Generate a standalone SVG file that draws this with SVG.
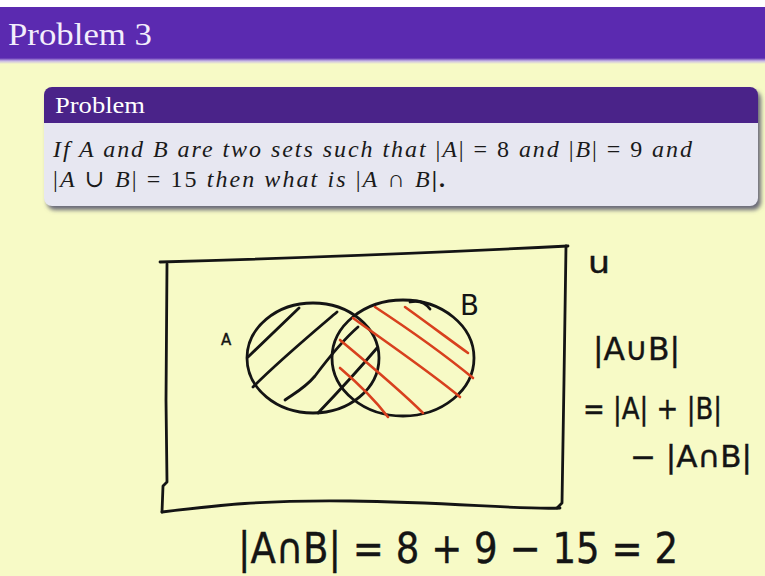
<svg xmlns="http://www.w3.org/2000/svg" width="765" height="576" viewBox="0 0 765 576">
<defs>
<linearGradient id="barfade" x1="0" y1="0" x2="0" y2="1">
<stop offset="0" stop-color="#5b2ab0"/>
<stop offset="0.5" stop-color="#c9b9e6"/>
<stop offset="1" stop-color="#f7fac6"/>
</linearGradient>
<filter id="shadow" x="-5%" y="-10%" width="110%" height="130%">
<feGaussianBlur stdDeviation="2"/>
</filter>
<style>
.ink{fill:none;stroke:#141414;stroke-width:2.8;stroke-linecap:round;stroke-linejoin:round}
.red{fill:none;stroke:#d8401e;stroke-width:2.6;stroke-linecap:round}
.hand{font-family:"DejaVu Sans","Liberation Sans",sans-serif;fill:#141414;stroke:#141414;stroke-width:0.4}
.tex{font-family:"Liberation Serif","DejaVu Serif",serif;fill:#1a1a1a}
.it{font-style:italic}
</style>
</defs>
<rect x="0" y="0" width="765" height="576" fill="#f7fac6"/>
<g id="titlebar">
<rect x="0" y="0" width="765" height="7" fill="#ffffff"/>
<rect x="0" y="7" width="765" height="51" fill="#5b2ab0"/>
<rect x="0" y="58" width="765" height="6" fill="url(#barfade)"/>
<text x="8" y="45" font-family="Liberation Serif,serif" font-size="32" fill="#f3eefc" textLength="144" lengthAdjust="spacingAndGlyphs">Problem 3</text>
</g>
<g id="problem-box">
<rect x="47" y="91" width="714" height="119" rx="8" fill="#6a6a78" filter="url(#shadow)"/>
<path d="M44,95 a8,8 0 0 1 8,-8 H750 a8,8 0 0 1 8,8 V123 H44 Z" fill="#4a2389"/>
<path d="M44,123 H758 V198 a8,8 0 0 1 -8,8 H52 a8,8 0 0 1 -8,-8 Z" fill="#e7e7f1"/>
<text x="55" y="113" font-family="Liberation Serif,serif" font-size="23" fill="#ffffff" textLength="90" lengthAdjust="spacingAndGlyphs">Problem</text>
<text class="tex" x="53" y="157" font-size="24" textLength="639" lengthAdjust="spacing"><tspan class="it">If A and B are two sets such that </tspan><tspan>|</tspan><tspan class="it">A</tspan><tspan>| = 8 </tspan><tspan class="it">and </tspan><tspan>|</tspan><tspan class="it">B</tspan><tspan>| = 9 </tspan><tspan class="it">and</tspan></text>
<text class="tex" x="53" y="187" font-size="24" textLength="392" lengthAdjust="spacing"><tspan>|</tspan><tspan class="it">A</tspan><tspan> ∪ </tspan><tspan class="it">B</tspan><tspan>| = 15 </tspan><tspan class="it">then what is </tspan><tspan>|</tspan><tspan class="it">A</tspan><tspan> ∩ </tspan><tspan class="it">B</tspan><tspan font-weight="bold">|.</tspan></text>
</g>
<g id="universe">
<path class="ink" d="M160,262 C300,258 450,252 568,246"/>
<path class="ink" d="M566,246 L564,380 L562,503 L557,508"/>
<path class="ink" d="M167,264 L166,400 L167,482 L163,486 L162,512"/>
<path class="ink" d="M162,512 C220,505 262,500 350,501 C450,502 520,510 560,508"/>
<text class="hand" x="588" y="273" font-size="30" stroke-width="0.2" textLength="22" lengthAdjust="spacingAndGlyphs">u</text>
</g>
<g id="set-A">
<ellipse class="ink" cx="313" cy="358" rx="66" ry="55"/>
<text class="hand" x="221" y="345" font-size="15" stroke-width="0.8">A</text>
</g>
<g id="set-B">
<ellipse class="ink" cx="403" cy="358" rx="71" ry="58"/>
<path class="ink" d="M410,302 C418,300 425,302 430,309"/>
<text x="460" y="315" font-family="DejaVu Sans,sans-serif" font-size="28" fill="#141414" textLength="19" lengthAdjust="spacingAndGlyphs">B</text>
</g>
<g id="hatching">
<path class="ink" d="M248,357 L299,308"/>
<path class="ink" d="M253,387 C280,360 310,335 337,312"/>
<path class="ink" d="M285,400 C295,393 305,388 315,376 C330,356 343,340 358,327"/>
<path class="ink" d="M318,413 C340,390 360,368 377,348"/>
<path class="red" d="M340,340 C370,365 400,390 423,413"/>
<path class="red" d="M340,368 C360,385 375,400 388,417"/>
<path class="red" d="M353,318 C390,345 430,372 460,397"/>
<path class="red" d="M375,307 C410,330 445,355 473,378"/>
<path class="red" d="M405,307 C430,325 450,340 468,353"/>
</g>
<g id="formula">
<text class="hand" x="593" y="360" font-size="32" textLength="87" lengthAdjust="spacingAndGlyphs">|A∪B|</text>
<text class="hand" x="583" y="419" font-size="30" textLength="139" lengthAdjust="spacingAndGlyphs">= |A| + |B|</text>
<text class="hand" x="630" y="467" font-size="30" textLength="122" lengthAdjust="spacingAndGlyphs">− |A∩B|</text>
</g>
<g id="answer">
<text class="hand" x="238" y="563" font-size="42" stroke-width="0.3" textLength="440" lengthAdjust="spacingAndGlyphs">|A∩B| = 8 + 9 − 15 = 2</text>
</g>
</svg>
